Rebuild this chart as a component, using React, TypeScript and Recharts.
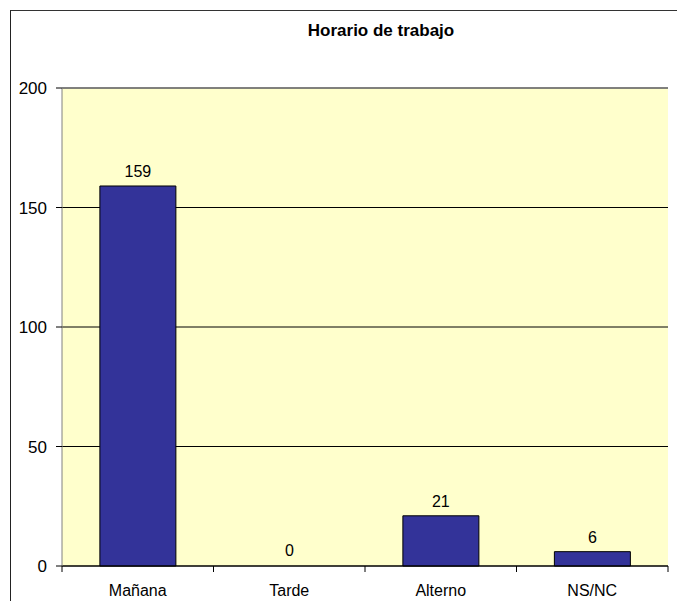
import { BarChart, Bar, XAxis, YAxis, CartesianGrid, ReferenceLine, LabelList, Rectangle } from "recharts";

const categories = ["Mañana", "Tarde", "Alterno", "NS/NC"];
const counts = [159, 0, 21, 6];
const yTicks = [0, 50, 100, 150, 200];

const chartData = categories.map((name, i) => ({ name, value: counts[i] }));

const FONT = "'Liberation Sans', Arial, sans-serif";

// category label plus the tick marks between categories
function CategoryTick(props: any) {
  const { x, y, payload, index, visibleTicksCount } = props;
  const off = payload.offset || 0;
  const axisY = y - 18;
  const last = index === visibleTicksCount - 1;
  return (
    <g>
      <line x1={x - off} x2={x - off} y1={axisY} y2={axisY + 6} stroke="#000" />
      {last && <line x1={x + off} x2={x + off} y1={axisY} y2={axisY + 6} stroke="#000" />}
      <text x={x} y={y + 12} textAnchor="middle" fontSize={16} fill="#000" fontFamily={FONT}>
        {payload.value}
      </text>
    </g>
  );
}

// zero bars keep their label but draw no box
function BarShape(props: any) {
  if (!props.value) return <g />;
  return <Rectangle {...props} />;
}

export default function App() {
  return (
    <div
      style={{
        position: "fixed",
        left: 0,
        top: 0,
        width: 677,
        height: 601,
        overflow: "hidden",
        background: "#fff",
        fontFamily: FONT,
      }}
    >
      <div
        style={{
          position: "absolute",
          left: 10,
          top: 10,
          right: -200,
          bottom: -200,
          borderLeft: "1.5px solid #222",
          borderTop: "1.5px solid #333",
        }}
      />
      <div
        style={{
          position: "absolute",
          left: 281,
          width: 200,
          top: 21,
          textAlign: "center",
          fontWeight: "bold",
          fontSize: 17,
          color: "#000",
        }}
      >
        Horario de trabajo
      </div>
      <div style={{ position: "absolute", left: 0, top: 0 }}>
        <BarChart
          width={677}
          height={601}
          data={chartData}
          margin={{ top: 88, right: 9, left: 12, bottom: 0 }}
          barCategoryGap="25%"
        >
          <CartesianGrid vertical={false} stroke="#000" fill="#FFFFCC" fillOpacity={1} />
          <XAxis
            dataKey="name"
            height={35}
            axisLine={{ stroke: "#000" }}
            tickLine={false}
            tickSize={6}
            tickMargin={12}
            tick={<CategoryTick />}
            interval={0}
          />
          <YAxis
            width={50}
            domain={[0, 200]}
            ticks={yTicks}
            interval={0}
            axisLine={{ stroke: "#808080" }}
            tickLine={{ stroke: "#000" }}
            tickSize={6}
            tickMargin={9}
            tick={{ fontSize: 17, fill: "#000", fontFamily: FONT }}
          />
          <ReferenceLine y={200} stroke="#808080" strokeWidth={1.5} />
          <Bar
            dataKey="value"
            fill="#333399"
            stroke="#000"
            strokeWidth={1}
            minPointSize={1}
            shape={<BarShape />}
            isAnimationActive={false}
          >
            <LabelList
              dataKey="value"
              position="top"
              offset={9}
              fill="#000"
              fontSize={16}
              fontFamily={FONT}
            />
          </Bar>
        </BarChart>
      </div>
    </div>
  );
}
